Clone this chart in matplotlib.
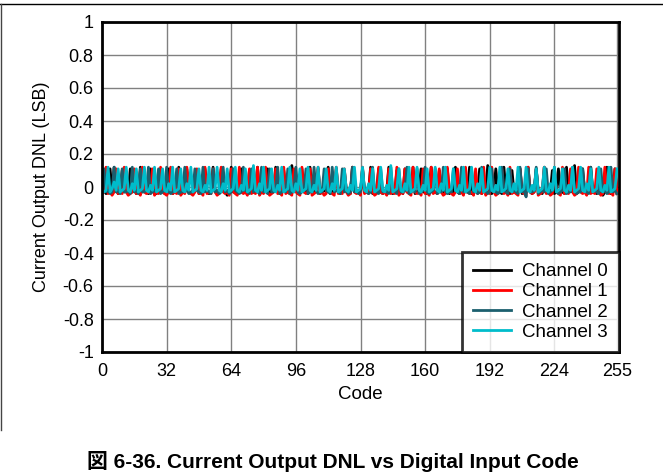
import matplotlib
matplotlib.use("Agg")
import matplotlib.pyplot as plt
from matplotlib.lines import Line2D
import numpy as np

plt.rcParams['font.family'] = ['Liberation Sans', 'DejaVu Sans']
plt.rcParams['axes.unicode_minus'] = False

# DNL, in hundredths of an LSB, codes 0..255
ch0 = [
    -3, -2, -4, -3, 11, -3, 12, -2, -4, -3, 10, -3, -2, -4, 11, -3,
    -2, -4, -3, 12, -3, -2, -3, -4, 11, -2, -3, -4, 10, -3, -2, -4,
    -3, 11, -2, -4, -3, -3, 12, -4, -2, -3, 11, -3, -4, -2, -3, 10,
    -4, -3, -2, 11, -3, -4, -2, 12, -3, -3, -4, 11, -2, -3, -5, -3,
    12, -3, -2, -4, -3, 11, -3, -2, -4, 10, -3, -3, -2, 12, -4, -3,
    -2, -3, 11, -4, -3, -2, 12, -3, -4, -3, 10, -2, -3, -4, 13, -3,
    -2, -4, -3, 11, -3, -2, -4, 12, -3, -3, -2, 11, -4, -3, -2, -3,
    12, -4, -3, -2, 11, -3, -4, -3, 10, -2, -3, -4, 12, -3, -2, -3,
    -4, 11, -3, -2, -3, 12, -4, -3, -2, 11, -3, -4, -3, -2, 12, -3,
    -4, -3, 10, -2, -3, -4, 11, -3, -2, -3, 12, -4, -3, -2, 11, -3,
    -3, -4, -2, 12, -3, -3, -4, 10, -2, -3, -3, 11, -4, -2, -3, 12,
    -3, -4, -2, 11, -3, -3, 12, -4, -2, -3, -3, 11, -4, -2, -3, 13,
    -3, -4, -2, 11, -3, -3, -4, 12, -2, -3, -4, 10, -3, -2, -3, 11,
    -4, -3, -2, 12, -3, -4, -3, 11, -2, -3, -4, 12, -3, -2, -3, 10,
    -4, -3, 11, -2, -3, -4, 12, -3, -2, -3, 13, -4, -3, -2, 11, -3,
    -4, -3, 12, -2, -3, -4, 11, -3, -5, -3, 12, -2, -4, -3, 11, -4,
]
ch1 = [
    -4, -3, 12, -4, -3, -5, -3, 11, -4, -3, -4, 12, -3, -5, -4, -3,
    11, -4, -3, -5, 12, -3, -4, -3, -4, 11, -5, -3, -4, 12, -3, -4,
    -5, -3, 12, -4, -3, -4, 11, -5, -3, -4, 12, -3, -4, -5, -3, 11,
    -4, -3, -5, 12, -4, -3, -4, 11, -3, -5, -4, 12, -3, -4, -3, -5,
    11, -3, -4, -5, 12, -3, -4, -3, -5, 11, -4, -3, -4, 12, -5, -3,
    -4, 12, -3, -5, -4, -3, 11, -4, -3, -5, 12, -4, -3, -4, -5, 11,
    -3, -4, -5, 12, -3, -4, -3, 11, -5, -4, -3, 12, -4, -3, -5, -4,
    11, -3, -4, -5, 12, -4, -3, -4, 11, -3, -5, -4, 12, -3, -4, -3,
    -5, 12, -4, -3, -4, 11, -3, -5, -4, 12, -3, -4, -3, -5, 11, -4,
    -3, -4, 12, -5, -3, -4, 11, -3, -4, -5, 12, -3, -4, -3, -5, 11,
    -4, -3, -5, 12, -4, -3, -4, 11, -3, -5, -4, 12, -3, -4, -5, -3,
    11, -4, -3, -5, 12, -3, -4, -3, -5, 11, -4, -3, -4, 12, -5, -3,
    -4, 12, -3, -5, -4, -3, 11, -4, -3, -5, 12, -4, -3, -4, -5, 11,
    -3, -4, -5, 12, -3, -4, -3, 11, -5, -4, -3, 12, -4, -3, -5, -4,
    11, -3, -4, -5, 12, -4, -3, -4, 11, -3, -5, -4, 12, -3, -4, -3,
    -5, 12, -4, -3, -4, 11, -3, -5, -4, 12, -3, -4, -3, -5, 11, -4,
]
ch2 = [
    -3, 11, -3, -2, -4, -3, 12, -3, -2, -4, 11, -3, -3, -2, -4, 12,
    -3, -2, -4, 11, -3, -3, -2, 12, -4, -3, -2, -3, 11, -4, -3, -2,
    12, -3, -4, -3, -2, 11, -4, -3, -3, 12, -2, -4, -3, -3, 11, -2,
    -3, -4, 12, -3, -2, -3, -4, 11, -3, -2, -4, -3, 12, -3, -2, -4,
    -3, 11, -2, -3, -4, -3, 12, -2, -3, -4, 11, -3, -2, -3, -4, 12,
    -3, -2, -4, 11, -3, -3, -2, 12, -4, -3, -2, -3, 11, -4, -3, -2,
    12, -3, -4, -3, -2, 11, -4, -3, -3, 12, -2, -4, -3, -3, 11, -2,
    -3, -4, 12, -3, -2, -3, -4, 11, -3, -2, -4, -3, 12, -3, -2, -4,
    -3, 11, -2, -3, -4, -3, 12, -2, -3, -4, 11, -3, -2, -3, -4, 12,
    -3, -2, -4, 11, -3, -3, -2, 12, -4, -3, -2, -3, 11, -4, -3, -2,
    12, -3, -4, -3, -2, 11, -4, -3, -3, 12, -2, -4, -3, -3, 11, -2,
    -3, -4, 12, -3, -2, -3, -4, 11, -3, -2, -4, -3, 12, -3, -2, -4,
    -3, 11, -2, -3, -4, -3, 12, -2, -3, -4, 11, -3, -2, -3, -4, 12,
    -3, -2, -6, 11, -3, -3, -2, 12, -4, -3, -2, -3, 11, -4, -3, -2,
    12, -3, -4, -3, -2, 11, -4, -3, -3, 12, -2, -4, -3, -3, 11, -2,
    -3, -4, 12, -3, -2, -3, -4, 11, -3, -2, -4, -3, 12, -3, -2, -4,
]
ch3 = [
    -2, -3, -2, 12, -3, -1, 3, -2, 11, -3, -2, -1, 12, -2, -3, 2,
    -2, 11, -3, -2, -1, 12, -2, -3, 1, -2, 12, -3, -2, -1, 11, -2,
    -3, 2, -2, 12, -3, -2, -1, 11, -2, -3, 2, -2, 12, -3, -2, -1,
    11, -2, -3, 1, -2, 12, -3, -2, -1, 12, -2, -3, 2, -2, 11, -3,
    -2, -1, 12, -2, -3, 1, -2, 11, -3, -2, -1, 13, -2, -3, 2, -2,
    12, -3, -2, -1, 11, -2, -3, 1, -2, 12, -3, -2, -1, 12, -2, -3,
    2, -2, 11, -3, -2, -1, 12, -2, -3, 1, -2, 12, -3, -2, -1, 11,
    -2, -3, 2, -2, 12, -3, -2, -1, 11, -2, -3, 1, -2, 12, -3, -2,
    -1, 12, -2, -3, 2, -2, 11, -3, -2, -1, 12, -2, -3, 1, -2, 13,
    -3, -2, -1, 11, -2, -3, 2, -2, 12, -3, -2, -1, 12, -2, -3, 1,
    -2, 11, -3, -2, -1, 12, -2, -3, 2, -2, 12, -3, -2, -1, 11, -2,
    -3, 1, -2, 12, -3, -2, -1, 12, -2, -3, 2, -2, 11, -3, -2, -1,
    12, -2, -3, 1, -2, 12, -3, -2, -1, 11, -2, -3, 2, -2, 12, -3,
    -2, -1, 12, -2, -3, 1, -2, 11, -3, -2, -1, 12, -2, -3, 2, -2,
    12, -3, -2, -1, 11, -2, -3, 1, -2, 12, -3, -2, -1, 12, -2, -3,
    2, -2, 11, -3, -2, -1, 12, -2, -3, 1, -2, 12, -3, -2, -1, 11,
]

labels = ["Channel 0", "Channel 1", "Channel 2", "Channel 3"]
colors = ["#000000", "#ff0000", "#1b5f6e", "#00bccb"]
xticks = [0, 32, 64, 96, 128, 160, 192, 224, 255]
yticks = [-1, -0.8, -0.6, -0.4, -0.2, 0, 0.2, 0.4, 0.6, 0.8, 1]
ytick_labels = ["-1", "-0.8", "-0.6", "-0.4", "-0.2", "0", "0.2", "0.4", "0.6", "0.8", "1"]

fig = plt.figure(figsize=(6.63, 4.76), dpi=100)
ax = fig.add_axes([102 / 663, 1 - 352 / 476, 517 / 663, 330 / 476])

codes = np.arange(len(ch0))
for vals, lab, col in zip([ch0, ch1, ch2, ch3], labels, colors):
    ax.plot(codes, np.array(vals) / 100.0, color=col, lw=2, label=lab)

ax.set_xlim(0, 256)
ax.set_ylim(-1, 1)
ax.set_xticks(xticks)
ax.set_yticks(yticks)
ax.set_yticklabels(ytick_labels)
ax.tick_params(axis="y", length=0, labelsize=13, pad=6)
ax.tick_params(axis="x", length=0, labelsize=13, pad=8)
ax.grid(True, color="#808080", lw=1)
ax.set_axisbelow(True)
for s in ax.spines.values():
    s.set_linewidth(2)
ax.set_xlabel("Code", fontsize=13.5, labelpad=4)
ax.set_ylabel("Current Output DNL (LSB)", fontsize=13, labelpad=9)

leg = ax.legend(loc="lower right", fontsize=13.5, frameon=True, fancybox=False,
                borderaxespad=0, handlelength=2.0, handletextpad=0.6,
                labelspacing=0.16, borderpad=0.6)
leg.get_frame().set_edgecolor("black")
leg.get_frame().set_linewidth(2)

# page frame lines
fig.add_artist(Line2D([0, 1], [1 - 4 / 476, 1 - 4 / 476], color="black", lw=1))
fig.add_artist(Line2D([0.5 / 663, 0.5 / 663], [1 - 4 / 476, 1 - 430 / 476], color="#444444", lw=1))

fig.text(333 / 663, 1 - 462 / 476, "図 6-36. Current Output DNL vs Digital Input Code",
         ha="center", va="center", fontsize=15, fontweight="bold",
         family=["Liberation Sans", "Noto Sans CJK JP"])

fig.savefig("out.png", dpi=100)
